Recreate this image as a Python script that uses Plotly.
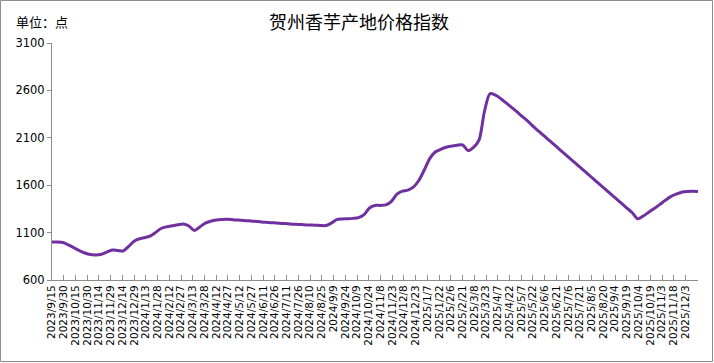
import pandas as pd
import plotly.graph_objects as go

# ---- data (weekly index readings, starting 2023-09-15) ----
start_date = "2023-09-15"
index_values = [
    1001, 1001, 995, 970, 940, 910, 885, 868, 864, 872,
    895, 917, 912, 906, 955, 1010, 1035, 1048, 1065, 1105,
    1146, 1162, 1172, 1182, 1190, 1170, 1122, 1160, 1200, 1220,
    1232, 1238, 1240, 1236, 1232, 1228, 1224, 1219, 1214, 1209,
    1205, 1201, 1197, 1193, 1189, 1186, 1183, 1180, 1178, 1176,
    1174, 1200, 1236, 1244, 1246, 1250, 1258, 1290, 1360, 1386,
    1387, 1392, 1430, 1505, 1537, 1548, 1580, 1650, 1760, 1880,
    1950, 1978, 2000, 2012, 2022, 2025, 1965, 2000, 2075, 2380,
    2565, 2550, 2512, 2465, 2418, 2370, 2320, 2270, 2215, 2165,
    2114, 2064, 2014, 1963, 1913, 1863, 1812, 1762, 1712, 1661,
    1611, 1561, 1510, 1460, 1410, 1359, 1309, 1245, 1275, 1315,
    1355, 1395, 1440, 1480, 1505, 1525, 1533, 1535, 1533,
]
dates = pd.date_range(start_date, periods=len(index_values), freq="7D")

tick_labels = [
    "2023/9/15", "2023/9/30", "2023/10/15", "2023/10/30", "2023/11/14", "2023/11/29",
    "2023/12/14", "2023/12/29", "2024/1/13", "2024/1/28", "2024/2/12", "2024/2/27",
    "2024/3/13", "2024/3/28", "2024/4/12", "2024/4/27", "2024/5/12", "2024/5/27",
    "2024/6/11", "2024/6/26", "2024/7/11", "2024/7/26", "2024/8/10", "2024/8/25",
    "2024/9/9", "2024/9/24", "2024/10/9", "2024/10/24", "2024/11/8", "2024/11/23",
    "2024/12/8", "2024/12/23", "2025/1/7", "2025/1/22", "2025/2/6", "2025/2/21",
    "2025/3/8", "2025/3/23", "2025/4/7", "2025/4/22", "2025/5/7", "2025/5/22",
    "2025/6/6", "2025/6/21", "2025/7/6", "2025/7/21", "2025/8/5", "2025/8/20",
    "2025/9/4", "2025/9/19", "2025/10/4", "2025/10/19", "2025/11/3", "2025/11/18",
    "2025/12/3",
]
tick_vals = [pd.Timestamp(s.replace("/", "-")) for s in tick_labels]

y_ticks = [600, 1100, 1600, 2100, 2600, 3100]

title_text = "贺州香芋产地价格指数"
unit_text = "单位：点"

# ---- figure ----
W, H = 714, 363
ml, mr, mt, mb = 52, 16, 43, 83
pw, ph = W - ml - mr, H - mt - mb

fig = go.Figure()
fig.add_trace(go.Scatter(
    x=dates, y=index_values, mode="lines",
    line=dict(color="#7030A0", width=3, shape="spline", smoothing=0.8),
    hoverinfo="x+y", showlegend=False,
))

axis_gray = "#8c8c8c"
fig.update_layout(
    width=W, height=H,
    margin=dict(l=ml, r=mr, t=mt, b=mb),
    paper_bgcolor="white", plot_bgcolor="white",
    font=dict(family="DejaVu Sans, Noto Sans CJK SC", color="#000000"),
    xaxis=dict(
        type="date",
        range=[dates[0], dates[-1]],
        tickmode="array", tickvals=tick_vals, ticktext=tick_labels,
        tickangle=-90, tickfont=dict(size=10.5, family="DejaVu Sans"),
        showgrid=False, zeroline=False,
        showline=True, linecolor=axis_gray, linewidth=1,
        ticks="inside", ticklen=5, tickcolor=axis_gray,
    ),
    yaxis=dict(
        range=[600, 3100], tickmode="array", tickvals=y_ticks,
        ticktext=[str(v) for v in y_ticks],
        tickfont=dict(size=11.5, family="DejaVu Sans"),
        showgrid=False, zeroline=False,
        showline=True, linecolor=axis_gray, linewidth=1,
        ticks="outside", ticklen=4, tickcolor=axis_gray,
    ),
    annotations=[
        dict(text=title_text, xref="paper", yref="paper",
             x=(359 - ml) / pw, y=1 + (mt - 21) / ph, xanchor="center", yanchor="middle",
             showarrow=False, font=dict(size=18, family="Noto Sans CJK SC", color="#000")),
        dict(text=unit_text, xref="paper", yref="paper",
             x=(14 - ml) / pw, y=1 + (mt - 21) / ph, xanchor="left", yanchor="middle",
             showarrow=False, font=dict(size=13, family="Noto Sans CJK SC", color="#000")),
    ],
    shapes=[
        dict(type="rect", xref="paper", yref="paper",
             x0=-(ml - 0.5) / pw, x1=1 + (mr - 1.5) / pw,
             y0=-(mb - 1.5) / ph, y1=1 + (mt - 0.5) / ph,
             line=dict(color="#8c8c8c", width=1), fillcolor="rgba(0,0,0,0)", layer="below"),
    ],
)

fig.write_html("out.html", config={"displayModeBar": False},
               post_script="document.body.style.margin='0';")
